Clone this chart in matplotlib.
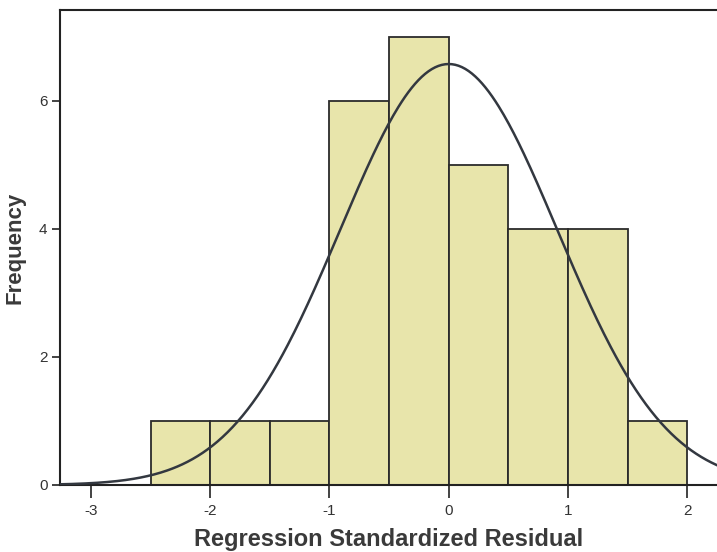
import numpy as np
import matplotlib
matplotlib.use("Agg")
import matplotlib.pyplot as plt

# histogram of standardized residuals (bin edges, counts)
bin_edges = [-2.5, -2.0, -1.5, -1.0, -0.5, 0.0, 0.5, 1.0, 1.5, 2.0]
counts = [1, 1, 1, 6, 7, 5, 4, 4, 1]
# fitted normal curve
n_obs = 30
mean = 0.0
std_dev = 0.91
x_ticks = [-3, -2, -1, 0, 1, 2]
y_ticks = [0, 2, 4, 6]

plt.rcParams["font.family"] = ["Liberation Sans", "DejaVu Sans"]
plt.rcParams["axes.unicode_minus"] = False

fig = plt.figure(figsize=(7.17, 5.52), dpi=100)
ax = fig.add_axes([60 / 717, 1 - 485 / 552, 1 - 60 / 717, 475 / 552])

edges = np.array(bin_edges)
widths = np.diff(edges)
ax.bar(edges[:-1], counts, width=widths, align="edge",
       color="#e8e5ab", edgecolor="#2b2b2b", linewidth=1.3, zorder=2)

xs = np.linspace(-3.3, 2.3, 400)
ys = n_obs * widths[0] / (std_dev * np.sqrt(2 * np.pi)) * np.exp(-0.5 * ((xs - mean) / std_dev) ** 2)
ax.plot(xs, ys, color="#333840", linewidth=1.8, zorder=3)

ax.set_xlim(-3.26, 2.25)
ax.set_ylim(0, 7.42)
ax.set_xticks(x_ticks)
ax.set_yticks(y_ticks)
ax.tick_params(axis="x", direction="out", length=9, width=1.2, colors="#222222",
               labelsize=11, labelcolor="#333333", pad=5)
ax.tick_params(axis="y", direction="out", length=6, width=1.2, colors="#222222",
               labelsize=11, labelcolor="#333333", pad=3)
for side in ["top", "left", "bottom"]:
    ax.spines[side].set_linewidth(1.5)
    ax.spines[side].set_color("#222222")
ax.spines["right"].set_visible(False)

ax.set_xlabel("Regression Standardized Residual", fontsize=17, fontweight="bold",
              color="#3a3a3a", labelpad=7)
ax.set_ylabel("Frequency", fontsize=16, fontweight="bold", color="#3a3a3a", labelpad=10)

fig.savefig("out.png", dpi=100)
